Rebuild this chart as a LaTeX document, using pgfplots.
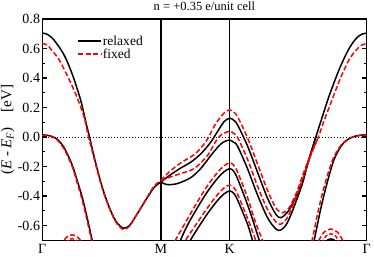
\documentclass[border={0pt 2pt 0pt 0pt}]{standalone}
\usepackage{fontspec}
\setmainfont{Liberation Serif}
\usepackage{pgfplots}
\pgfplotsset{compat=1.18}
\begin{document}
\begin{tikzpicture}
\begin{axis}[
  scale only axis,
  width=324pt, height=221pt,
  xmin=0, xmax=1.577, ymin=-0.7, ymax=0.8,
  axis line style={line width=1.3pt},
  clip=true,
  xtick={0,0.577,0.911,1.577},
  xticklabels={Γ,M,K,Γ},
  xtick style={draw=none},
  xticklabel style={font=\fontsize{14}{15}\selectfont, inner ysep=1pt, yshift=-3pt},
  ytick={-0.6,-0.4,-0.2,0,0.2,0.4,0.6,0.8},
  minor ytick={-0.7,-0.5,-0.3,-0.1,0.1,0.3,0.5,0.7},
  ytick pos=both, tick align=inside,
  major tick length=5pt, minor tick length=3pt,
  ytick style={line width=1.2pt, black},
  minor tick style={line width=1.2pt, black},
  /pgf/number format/assume math mode=true,
  yticklabel style={font=\fontsize{14}{15}\selectfont, inner xsep=2pt,
    /pgf/number format/fixed, /pgf/number format/fixed zerofill, /pgf/number format/precision=1},
  ylabel={(\textit{E} - \textit{E}\textsubscript{\textit{F}})\quad[eV]},
  ylabel style={font=\fontsize{15}{16}\selectfont, inner sep=1pt},
  title={n = +0.35 e/unit cell},
  title style={font=\fontsize{12.5}{13}\selectfont, inner sep=2pt},
  legend style={at={(0.108,0.93)}, anchor=north west, draw=none, fill=none,
    inner sep=0pt, row sep=0pt, font=\fontsize{13.5}{14}\selectfont,
    nodes={inner sep=1pt}},
  legend cell align=left,
  legend image code/.code={\draw[#1] (0pt,0pt) -- (23pt,0pt);},
  every axis plot/.append style={smooth, tension=0.5, line width=1.5pt},
]
% Fermi level
\addplot[black, line width=0.8pt, dash pattern=on 0.8pt off 2.2pt, sharp plot, forget plot]
  coordinates {(0,0) (1.577,0)};
% high-symmetry lines
\addplot[black, line width=1.4pt, sharp plot, forget plot] coordinates {(0.577,-0.7) (0.577,0.8)};
\addplot[black, line width=1.4pt, sharp plot, forget plot] coordinates {(0.911,-0.7) (0.911,0.8)};

% ---------- relaxed (black) ----------
\addplot[black] coordinates {(0,0.705)(0.024,0.697)(0.056,0.66)(0.105,0.56)(0.146,0.427)(0.187,0.25)(0.214,0.09)(0.230,0.0)(0.245,-0.09)(0.268,-0.22)(0.292,-0.34)(0.316,-0.44)(0.341,-0.525)(0.365,-0.583)(0.394,-0.617)(0.424,-0.60)(0.462,-0.52)(0.511,-0.41)(0.545,-0.34)(0.577,-0.305)};
\addlegendentry{relaxed}
\addplot[black, forget plot] coordinates {(0,0.015)(0.025,0.012)(0.05,0.003)(0.073,-0.015)(0.106,-0.07)(0.146,-0.19)(0.170,-0.295)(0.195,-0.41)(0.219,-0.55)(0.243,-0.70)(0.258,-0.79)};
% M-K upper pair
\addplot[black, forget plot] coordinates {(0.577,-0.305)(0.600,-0.28)(0.624,-0.255)(0.673,-0.21)(0.722,-0.17)(0.770,-0.115)(0.819,-0.035)(0.860,0.055)(0.884,0.105)(0.911,0.128)(0.930,0.115)(0.949,0.084)(0.998,-0.06)(1.046,-0.236)(1.095,-0.413)(1.136,-0.524)(1.160,-0.546)(1.192,-0.51)(1.225,-0.43)(1.265,-0.30)(1.29,-0.18)(1.330,0.0)(1.36,0.13)(1.395,0.28)(1.444,0.46)(1.484,0.58)(1.51,0.64)(1.533,0.678)(1.555,0.698)(1.577,0.705)};
\addplot[black, forget plot] coordinates {(0.577,-0.305)(0.608,-0.322)(0.657,-0.315)(0.722,-0.275)(0.770,-0.214)(0.819,-0.126)(0.860,-0.058)(0.884,-0.032)(0.911,-0.02)(0.930,-0.035)(0.949,-0.06)(0.998,-0.214)(1.046,-0.39)(1.095,-0.546)(1.136,-0.623)(1.16,-0.63)(1.19,-0.585)(1.225,-0.47)(1.265,-0.315)(1.29,-0.185)(1.330,0.0)};
% lower pair around K
\addplot[black, forget plot] coordinates {(0.66,-0.74)(0.672,-0.70)(0.705,-0.60)(0.754,-0.48)(0.803,-0.37)(0.852,-0.28)(0.884,-0.235)(0.911,-0.214)(0.930,-0.23)(0.949,-0.28)(0.998,-0.458)(1.030,-0.59)(1.055,-0.70)(1.065,-0.74)};
\addplot[black, forget plot] coordinates {(0.705,-0.74)(0.720,-0.70)(0.760,-0.61)(0.803,-0.52)(0.852,-0.43)(0.884,-0.385)(0.911,-0.365)(0.930,-0.38)(0.949,-0.424)(0.998,-0.59)(1.022,-0.70)(1.03,-0.74)};
% right band from Gamma
\addplot[black, forget plot] coordinates {(1.31,-0.76)(1.322,-0.70)(1.355,-0.48)(1.387,-0.30)(1.420,-0.148)(1.460,-0.048)(1.501,-0.004)(1.541,0.012)(1.577,0.015)};
% small bump near Gamma (right)
\addplot[black, forget plot] coordinates {(1.37,-0.72)(1.39,-0.695)(1.403,-0.69)(1.416,-0.695)(1.436,-0.72)};

% ---------- fixed (red dashed) ----------
\addplot[red, dash pattern=on 5pt off 2.5pt] coordinates {(0,0.635)(0.024,0.625)(0.04,0.60)(0.081,0.527)(0.122,0.416)(0.162,0.294)(0.203,0.139)(0.222,0.02)(0.243,-0.095)(0.268,-0.23)(0.292,-0.35)(0.316,-0.445)(0.341,-0.53)(0.365,-0.59)(0.394,-0.625)(0.424,-0.605)(0.462,-0.52)(0.511,-0.405)(0.545,-0.33)(0.577,-0.295)};
\addlegendentry{fixed}
\addplot[red, dash pattern=on 5pt off 2.5pt, forget plot] coordinates {(0,0.012)(0.025,0.01)(0.05,0.0)(0.073,-0.02)(0.106,-0.08)(0.146,-0.20)(0.170,-0.31)(0.195,-0.43)(0.219,-0.57)(0.243,-0.72)(0.256,-0.80)};
\addplot[red, dash pattern=on 5pt off 2.5pt, forget plot] coordinates {(0.577,-0.295)(0.600,-0.26)(0.624,-0.228)(0.673,-0.175)(0.738,-0.12)(0.770,-0.075)(0.803,-0.015)(0.843,0.09)(0.884,0.163)(0.911,0.184)(0.930,0.17)(0.949,0.14)(0.998,-0.005)(1.046,-0.18)(1.095,-0.36)(1.136,-0.48)(1.168,-0.513)(1.20,-0.48)(1.235,-0.38)(1.27,-0.245)(1.30,-0.135)(1.342,0.0)(1.37,0.11)(1.411,0.26)(1.45,0.40)(1.494,0.53)(1.533,0.60)(1.555,0.625)(1.577,0.633)};
\addplot[red, dash pattern=on 5pt off 2.5pt, forget plot] coordinates {(0.577,-0.295)(0.624,-0.27)(0.673,-0.247)(0.738,-0.214)(0.803,-0.126)(0.843,-0.03)(0.870,0.015)(0.911,0.04)(0.930,0.025)(0.949,0.0)(0.998,-0.15)(1.046,-0.33)(1.095,-0.49)(1.136,-0.575)(1.160,-0.59)(1.19,-0.55)(1.225,-0.44)(1.265,-0.29)(1.30,-0.145)(1.342,0.0)};
\addplot[red, dash pattern=on 5pt off 2.5pt, forget plot] coordinates {(0.63,-0.75)(0.647,-0.70)(0.700,-0.57)(0.754,-0.44)(0.803,-0.33)(0.852,-0.24)(0.884,-0.195)(0.911,-0.174)(0.930,-0.19)(0.949,-0.235)(0.998,-0.41)(1.035,-0.57)(1.071,-0.70)(1.08,-0.74)};
\addplot[red, dash pattern=on 5pt off 2.5pt, forget plot] coordinates {(0.68,-0.74)(0.696,-0.70)(0.754,-0.58)(0.803,-0.48)(0.852,-0.39)(0.884,-0.345)(0.911,-0.325)(0.930,-0.34)(0.949,-0.385)(0.998,-0.55)(1.038,-0.70)(1.05,-0.75)};
\addplot[red, dash pattern=on 5pt off 2.5pt, forget plot] coordinates {(1.30,-0.76)(1.312,-0.70)(1.345,-0.48)(1.378,-0.30)(1.413,-0.15)(1.455,-0.05)(1.50,-0.005)(1.541,0.01)(1.577,0.013)};
% bumps
\addplot[red, dash pattern=on 5pt off 2.5pt, forget plot] coordinates {(1.33,-0.75)(1.345,-0.70)(1.37,-0.645)(1.403,-0.623)(1.436,-0.645)(1.461,-0.70)(1.475,-0.75)};
\addplot[red, dash pattern=on 4pt off 2pt, forget plot] coordinates {(1.36,-0.72)(1.38,-0.67)(1.403,-0.656)(1.426,-0.67)(1.446,-0.72)};
\addplot[red, dash pattern=on 5pt off 2.5pt, forget plot] coordinates {(0.09,-0.74)(0.105,-0.70)(0.125,-0.672)(0.146,-0.663)(0.167,-0.672)(0.186,-0.70)(0.20,-0.74)};
\addplot[red, dash pattern=on 4pt off 2pt, forget plot] coordinates {(0.115,-0.72)(0.13,-0.695)(0.146,-0.688)(0.162,-0.695)(0.177,-0.72)};
\end{axis}
\end{tikzpicture}
\end{document}
